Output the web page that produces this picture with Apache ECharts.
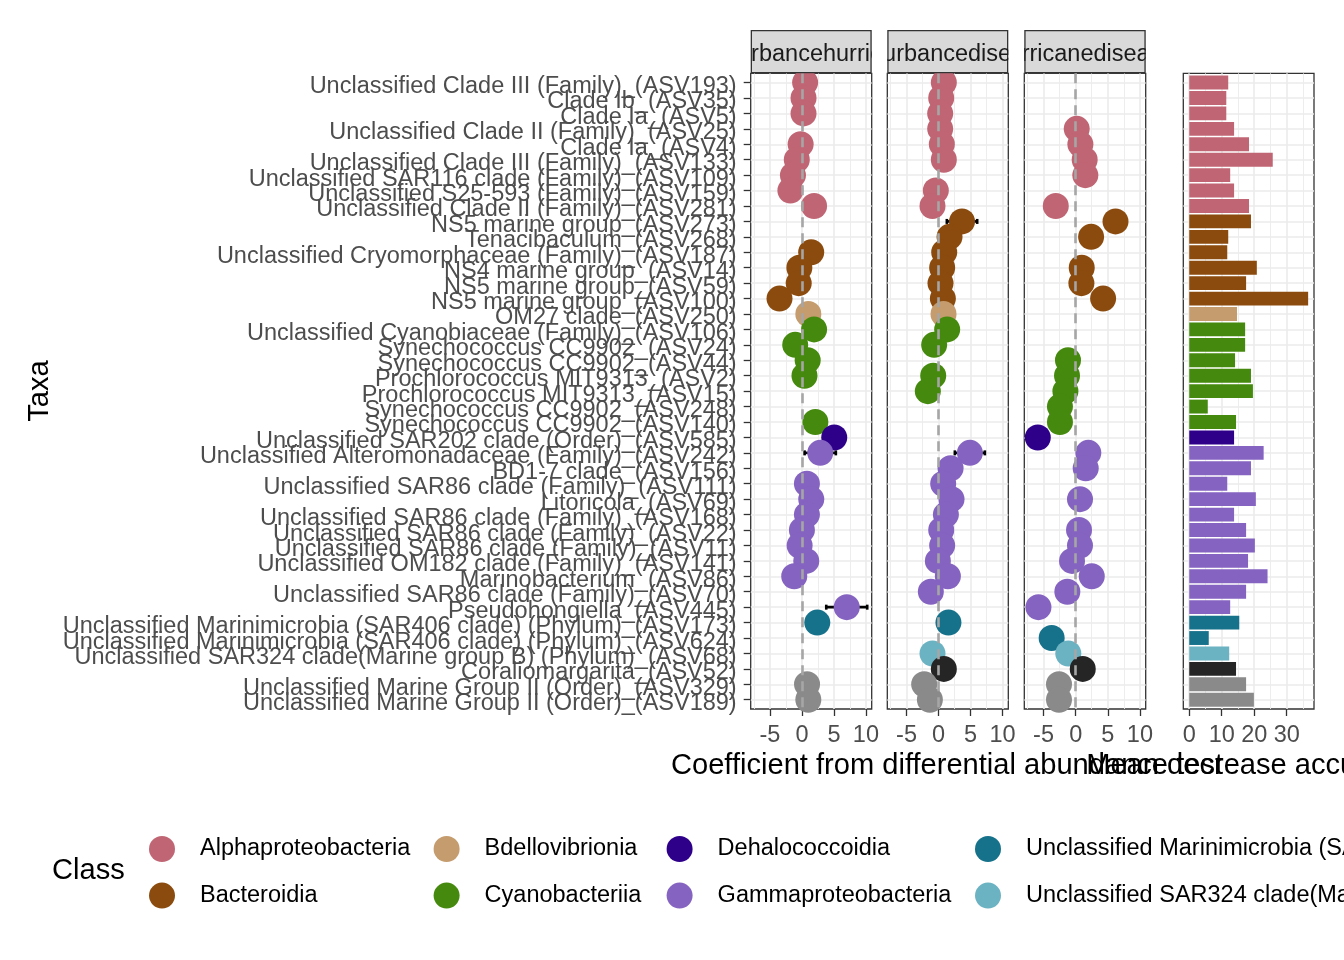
<!DOCTYPE html>
<html><head><meta charset="utf-8">
<script src="https://cdn.jsdelivr.net/npm/echarts@6/dist/echarts.min.js"></script>
<style>html,body{margin:0;padding:0;background:#fff}#c{width:1344px;height:960px}</style>
</head><body><div id="c"></div>
<script>
const taxa = [
'Unclassified Clade III (Family)_(ASV193)',
'Clade Ib_(ASV35)',
'Clade Ia_(ASV5)',
'Unclassified Clade II (Family)_(ASV25)',
'Clade Ia_(ASV4)',
'Unclassified Clade III (Family)_(ASV133)',
'Unclassified SAR116 clade (Family)_(ASV109)',
'Unclassified S25-593 (Family)_(ASV159)',
'Unclassified Clade II (Family)_(ASV281)',
'NS5 marine group_(ASV273)',
'Tenacibaculum_(ASV268)',
'Unclassified Cryomorphaceae (Family)_(ASV187)',
'NS4 marine group_(ASV14)',
'NS5 marine group_(ASV59)',
'NS5 marine group_(ASV100)',
'OM27 clade_(ASV250)',
'Unclassified Cyanobiaceae (Family)_(ASV106)',
'Synechococcus CC9902_(ASV24)',
'Synechococcus CC9902_(ASV44)',
'Prochlorococcus MIT9313_(ASV2)',
'Prochlorococcus MIT9313_(ASV15)',
'Synechococcus CC9902_(ASV248)',
'Synechococcus CC9902_(ASV140)',
'Unclassified SAR202 clade (Order)_(ASV585)',
'Unclassified Alteromonadaceae (Family)_(ASV242)',
'BD1-7 clade_(ASV156)',
'Unclassified SAR86 clade (Family)_(ASV111)',
'Litoricola_(ASV69)',
'Unclassified SAR86 clade (Family)_(ASV168)',
'Unclassified SAR86 clade (Family)_(ASV22)',
'Unclassified SAR86 clade (Family)_(ASV11)',
'Unclassified OM182 clade (Family)_(ASV141)',
'Marinobacterium_(ASV86)',
'Unclassified SAR86 clade (Family)_(ASV70)',
'Pseudohongiella_(ASV445)',
'Unclassified Marinimicrobia (SAR406 clade) (Phylum)_(ASV173)',
'Unclassified Marinimicrobia (SAR406 clade) (Phylum)_(ASV624)',
'Unclassified SAR324 clade(Marine group B) (Phylum)_(ASV68)',
'Coraliomargarita_(ASV52)',
'Unclassified Marine Group II (Order)_(ASV329)',
'Unclassified Marine Group II (Order)_(ASV189)'
];
const classNames = ['Alphaproteobacteria','Bacteroidia','Bdellovibrionia','Cyanobacteriia','Dehalococcoidia','Gammaproteobacteria','Unclassified Marinimicrobia (SAR406 clade)','Unclassified SAR324 clade(Marine group B)','Verrucomicrobiae','Thermoplasmata'];
const classColors = ['#C06574','#8B4B0E','#C49C6E','#458A0E','#2E008A','#8563C0','#16718A','#6BB2C2','#252525','#8A8A8A'];
const rowClass = [0,0,0,0,0,0,0,0,0, 1,1,1,1,1,1, 2, 3,3,3,3,3,3,3, 4, 5,5,5,5,5,5,5,5,5,5,5, 6,6, 7, 8, 9,9];
const facetLabels = ['disturbancehurricane','disturbancedisease','hurricanedisease'];
const coefDisturbanceHurricane = [0.5,0.25,0.25,null,-0.2,-0.8,-1.4,-1.8,1.9,null,null,1.45,-0.4,-0.5,-3.5,1.0,1.9,-1.05,0.9,0.4,null,null,2.1,5.05,2.86,null,0.78,1.46,0.78,0,-0.36,0.68,-1.2,null,7.0,2.4,null,null,null,0.8,1.0];
const coefDisturbanceDisease = [0.83,0.42,0.26,0.26,0.52,0.83,null,-0.42,-0.94,3.67,1.72,0.89,0.57,0.31,0.68,0.78,1.35,-0.68,null,-0.83,-1.67,null,null,null,4.9,1.88,0.73,2.03,1.15,0.42,0.57,-0.1,1.46,-1.2,null,1.55,null,-0.94,0.83,-2.24,-1.35];
const coefHurricaneDisease = [null,null,null,0.16,0.73,1.4,1.5,null,-3.1,6.2,2.4,null,0.94,0.89,4.27,null,null,null,-1.2,-1.35,-1.6,-2.45,-2.45,-5.9,1.97,1.56,null,0.67,null,0.52,0.67,-0.57,2.5,-1.3,-5.8,null,-3.74,-1.15,1.1,-2.6,-2.6];
// error bars: [row, lower, upper]
const errDisturbanceHurricane = [[24,0.42,5.3],[34,3.8,10.2]];
const errDisturbanceDisease = [[9,1.3,6.04],[24,2.55,7.24]];
const errHurricaneDisease = [];
const meanDecreaseAccuracy = [12.0,11.4,11.4,13.8,18.4,25.7,12.6,13.8,18.4,19.0,12.0,11.7,20.8,17.5,36.6,14.7,17.2,17.2,14.1,19.0,19.6,5.7,14.4,13.8,22.9,19.0,11.7,20.5,13.8,17.5,20.2,18.1,24.1,17.5,12.6,15.4,6.0,12.3,14.4,17.5,19.9];
const coefTicks = [-5,0,5,10];
const coefMinorTicks = [-7.5,-2.5,2.5,7.5];
const accTicks = [0,10,20,30];
const accMinorTicks = [5,15,25,35];

const coefs = [coefDisturbanceHurricane, coefDisturbanceDisease, coefHurricaneDisease];
const errs = [errDisturbanceHurricane, errDisturbanceDisease, errHurricaneDisease];
const rowIdx = taxa.map((_, i) => i);
const FONT = '"Liberation Sans", Arial, Helvetica, sans-serif';
const TXT = 23.5, TTL = 29.1;
const PTOP = 73.3, PH = 635.7, STRIP_H = 43.3;
const PAD = 0.6; // discrete axis expansion (rows)
const ROW_H = PH / (taxa.length - 1 + 2 * PAD);
const LABEL_SHIFT = 4; // text baseline offset like ggplot's vjust
const gridBoxes = [[750.7,121],[887.3,121],[1024.3,121.4],[1183.3,130.7]];
const xRanges = [[-8.0,10.9],[-8.0,10.9],[-8.0,10.9],[-1.83,38.4]];

const grid = gridBoxes.map(g => ({left:g[0], top:PTOP, width:g[1], height:PH, show:true,
  backgroundColor:'#fff', borderColor:'#333333', borderWidth:1.3}));
// label grid: category bands aligned with the row positions of the panels
grid.push({left:gridBoxes[0][0], top:PTOP + (PAD - 0.5) * ROW_H + LABEL_SHIFT, width:gridBoxes[0][1],
  height:taxa.length * ROW_H, show:false});

const xAxis = [];
const yAxis = [];
gridBoxes.forEach((g, i) => {
  const major = i < 3 ? coefTicks : accTicks;
  const minor = i < 3 ? coefMinorTicks : accMinorTicks;
  xAxis.push({type:'value', gridIndex:i, min:xRanges[i][0], max:xRanges[i][1], position:'bottom',
    axisLine:{show:false, onZero:false},
    axisTick:{show:true, length:7, customValues:major, lineStyle:{color:'#333333', width:1.3}},
    axisLabel:{show:true, customValues:major, fontSize:TXT, color:'#4D4D4D', margin:15, fontFamily:FONT,
      showMinLabel:true, showMaxLabel:true},
    splitLine:{show:true, lineStyle:{color:'#EBEBEB', width:1.6}}});
  xAxis.push({type:'value', gridIndex:i, min:xRanges[i][0], max:xRanges[i][1], position:'top',
    axisLine:{show:false, onZero:false},
    axisTick:{show:false, customValues:minor},
    axisLabel:{show:false, customValues:minor},
    splitLine:{show:true, lineStyle:{color:'#EBEBEB', width:0.9}}});
  yAxis.push({type:'value', gridIndex:i, inverse:true, min:-PAD, max:taxa.length - 1 + PAD, position:'left',
    axisLine:{show:false, onZero:false},
    axisTick:{show:i===0, length:7, customValues:rowIdx, lineStyle:{color:'#333333', width:1.3}},
    axisLabel:{show:false, customValues:rowIdx},
    splitLine:{show:true, lineStyle:{color:'#EBEBEB', width:1.6}}});
});
// label axes (grid 4)
xAxis.push({type:'value', gridIndex:4, show:false, min:0, max:1});
yAxis.push({type:'category', gridIndex:4, data:taxa, inverse:true, position:'left', boundaryGap:true,
  axisLine:{show:false, onZero:false},
  axisTick:{show:false},
  axisLabel:{show:true, interval:0, fontSize:TXT, color:'#4D4D4D', margin:14, fontFamily:FONT},
  splitLine:{show:false}});

const series = [];
coefs.forEach((coef, p) => {
  // error bars
  series.push({type:'custom', xAxisIndex:2*p, yAxisIndex:p, z:2, silent:true, data:errs[p],
    encode:{x:[1,2], y:0},
    renderItem:(params, api) => {
      const r = api.value(0), lo = api.value(1), hi = api.value(2);
      const a = api.coord([lo, r]), b = api.coord([hi, r]);
      const st = {stroke:'#000', lineWidth:2.6};
      return {type:'group', children:[
        {type:'line', shape:{x1:a[0], y1:a[1], x2:b[0], y2:b[1]}, style:st},
        {type:'line', shape:{x1:a[0], y1:a[1]-2.5, x2:a[0], y2:a[1]+2.5}, style:st},
        {type:'line', shape:{x1:b[0], y1:b[1]-2.5, x2:b[0], y2:b[1]+2.5}, style:st}
      ]};
    }});
  // points by class
  classNames.forEach((cn, c) => {
    const data = [];
    coef.forEach((v, r) => { if (v !== null && rowClass[r] === c) data.push([v, r]); });
    if (data.length) series.push({type:'scatter', name:cn, xAxisIndex:2*p, yAxisIndex:p, z:3,
      silent:true, symbol:'circle', symbolSize:26, data, itemStyle:{color:classColors[c], opacity:1}});
  });
  // zero reference line
  series.push({type:'scatter', xAxisIndex:2*p, yAxisIndex:p, z:5, silent:true, data:[],
    markLine:{silent:true, symbol:['none','none'], label:{show:false}, animation:false,
      lineStyle:{color:'#A6A6A6', type:[10,6], width:2.6}, data:[{xAxis:0}]}});
  // facet strip
  series.push({type:'custom', xAxisIndex:2*p, yAxisIndex:p, z:6, silent:true, clip:false,
    data:[[0,0]], encode:{x:0, y:1},
    renderItem:(params, api) => {
      const cs = params.coordSys;
      return {type:'group', x:cs.x, y:cs.y-STRIP_H,
        clipPath:{type:'rect', shape:{x:0, y:0, width:cs.width, height:STRIP_H}},
        children:[
        {type:'rect', shape:{x:0, y:0, width:cs.width, height:STRIP_H},
          style:{fill:'#D9D9D9', stroke:'#333333', lineWidth:2.6}},
        {type:'text', x:cs.width/2, y:STRIP_H/2+3,
          style:{text:facetLabels[p], fontSize:TXT, fontFamily:FONT, fill:'#1A1A1A',
            align:'center', verticalAlign:'middle'}}
      ]};
    }});
});
// bars
series.push({type:'custom', xAxisIndex:6, yAxisIndex:3, z:3, silent:true,
  data:meanDecreaseAccuracy.map((v, r) => [v, r, rowClass[r]]), encode:{x:0, y:1},
  renderItem:(params, api) => {
    const v = api.value(0), r = api.value(1), c = api.value(2);
    const p0 = api.coord([0, r]), p1 = api.coord([v, r]);
    const h = api.size([0, 0.9])[1];
    return {type:'rect', shape:{x:p0[0], y:p0[1]-h/2, width:p1[0]-p0[0], height:h},
      style:{fill:classColors[c]}};
  }});
// invisible series binding the label grid
series.push({type:'scatter', xAxisIndex:8, yAxisIndex:4, data:[], silent:true});

const legendCols = [[0,1],[2,3],[4,5],[6,7]];
const legendLefts = [149, 433.6, 666.6, 975];
const legend = legendCols.map((cols, i) => ({
  data: cols.map(c => ({name:classNames[c], icon:'circle'})),
  left: legendLefts[i], top: 836, orient:'vertical', itemWidth:66, itemHeight:26,
  itemGap:20.6, selectedMode:false, padding:0,
  textStyle:{fontSize:TXT, color:'#000', fontFamily:FONT}
}));

const graphic = [
  {type:'text', x:40, y:391, rotation:Math.PI/2, silent:true,
    style:{text:'Taxa', fontSize:TTL, fontFamily:FONT, fill:'#000', align:'center', verticalAlign:'middle'}},
  {type:'text', x:947, y:766, silent:true,
    style:{text:'Coefficient from differential abundance test', fontSize:TTL, fontFamily:FONT, fill:'#000', align:'center', verticalAlign:'middle'}},
  {type:'text', x:1248.7, y:766, silent:true,
    style:{text:'Mean decrease accuracy', fontSize:TTL, fontFamily:FONT, fill:'#000', align:'center', verticalAlign:'middle'}},
  {type:'text', x:52, y:871, silent:true,
    style:{text:'Class', fontSize:TTL, fontFamily:FONT, fill:'#000', align:'left', verticalAlign:'middle'}}
];

const chart = echarts.init(document.getElementById('c'), null, {renderer:'canvas'});
chart.setOption({
  animation:false,
  backgroundColor:'#fff',
  textStyle:{fontFamily:FONT},
  grid, xAxis, yAxis, series, legend, graphic
});
</script>
</body></html>
